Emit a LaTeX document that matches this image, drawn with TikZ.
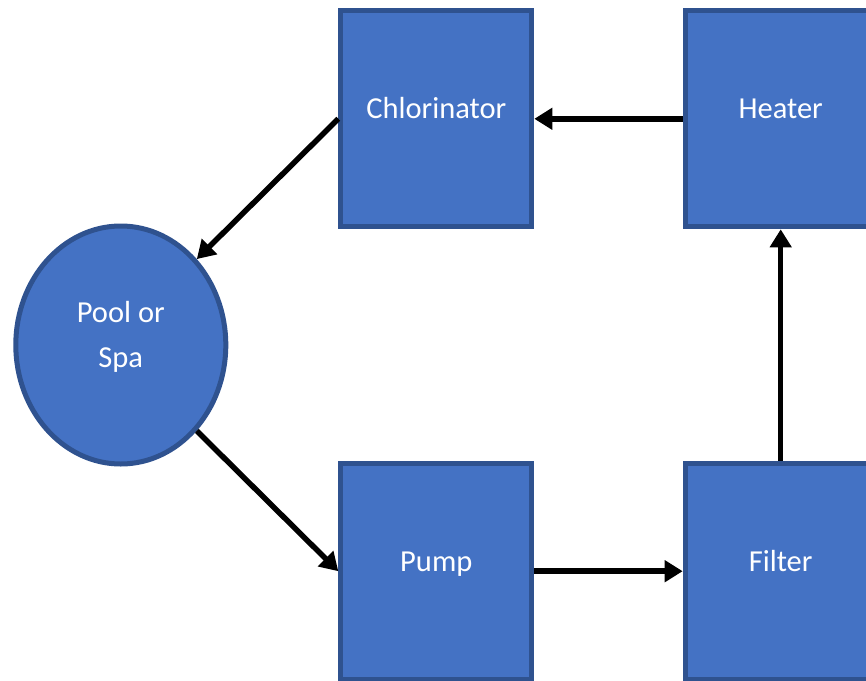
\documentclass[tikz,border=0pt]{standalone}
\usepackage{fontspec}
\setmainfont{Carlito}
\usetikzlibrary{arrows.meta,shapes.geometric}
\definecolor{boxfill}{HTML}{4472C4}
\definecolor{boxline}{HTML}{2F528F}
\tikzset{
  stepbox/.style={draw=boxline, fill=boxfill, line width=5pt, minimum width=191pt, minimum height=216pt,
    inner sep=0pt, text=white, font=\fontsize{30.5}{45}\selectfont, text height=0pt, text depth=0pt},
  poolnode/.style={ellipse, draw=boxline, fill=boxfill, line width=5pt, minimum width=210pt, minimum height=238pt,
    inner sep=0pt, text=white, font=\fontsize{30.5}{45}\selectfont, align=center, text height=45pt, text depth=0pt},
  arr/.style={line width=5.5pt, -{Triangle[length=18pt,width=21pt]}}
}
\begin{document}
\begin{tikzpicture}[x=1pt,y=-1pt]
\useasboundingbox (0,0) rectangle (866,680);
\clip (0,0) rectangle (866,680);
\node[stepbox] (chlor) at (436.3,118.8) {Chlorinator};
\node[stepbox] (heater) at (780.7,118.8) {Heater};
\node[stepbox] (pump) at (436.3,571.2) {Pump};
\node[stepbox] (filter) at (780.7,571.2) {Filter};
\node[poolnode] (pool) at (120.8,345) {Pool or\\Spa};
\draw[arr] (heater.west) -- (chlor.east);
\draw[arr] (chlor.west) -- (pool.north east);
\draw[arr] (pool.south east) -- (pump.west);
\draw[arr] (pump.east) -- (filter.west);
\draw[arr] (filter.north) -- (heater.south);
\end{tikzpicture}
\end{document}
